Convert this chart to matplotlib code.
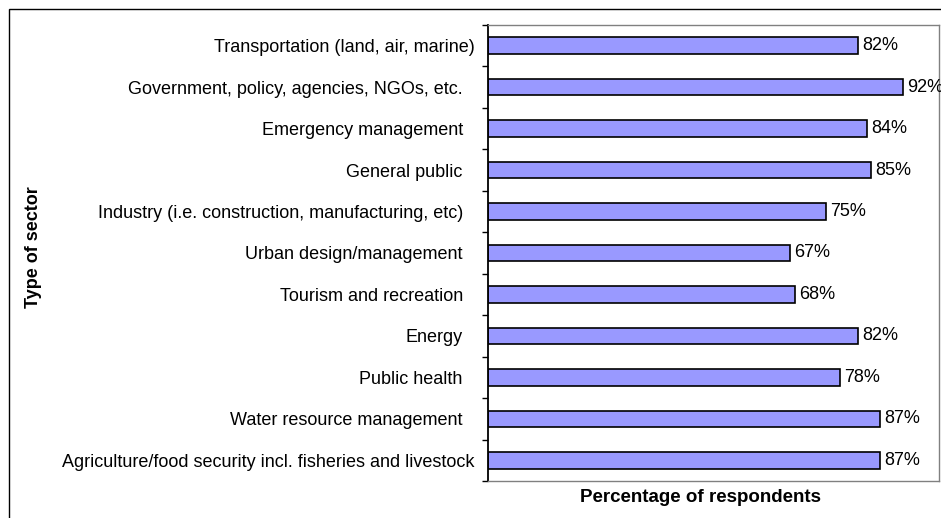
import matplotlib.pyplot as plt
from matplotlib.patches import Rectangle
import numpy as np

plt.rcParams['font.family'] = ['Liberation Sans', 'DejaVu Sans']

# sectors listed top to bottom as in the original chart
sectors = [
    'Transportation (land, air, marine)',
    'Government, policy, agencies, NGOs, etc.',
    'Emergency management',
    'General public',
    'Industry (i.e. construction, manufacturing, etc)',
    'Urban design/management',
    'Tourism and recreation',
    'Energy',
    'Public health',
    'Water resource management',
    'Agriculture/food security incl. fisheries and livestock',
]
percent = [82, 92, 84, 85, 75, 67, 68, 82, 78, 87, 87]
# labels that sit flush with the ticks (others had a trailing blank in the source)
flush = ['Transportation (land, air, marine)',
         'Agriculture/food security incl. fisheries and livestock']

W, H = 941, 518
fig = plt.figure(figsize=(W / 100, H / 100), dpi=100)

# outer chart frame
fig.patches.append(Rectangle((9 / W, -0.1), 1.2, 1 - 9 / H + 0.1, transform=fig.transFigure,
                             fill=False, edgecolor='black', linewidth=1.0))

ax = fig.add_axes([488 / W, 37 / H, (939 - 488) / W, (493 - 37) / H])

y = np.arange(len(sectors))
ax.barh(y, percent, height=0.4, color='#9999FF', edgecolor='black', linewidth=1.2)

for yi, v in zip(y, percent):
    ax.text(v + 0.9, yi, f'{v}%', va='center', ha='left', fontsize=13, clip_on=False)

ax.set_xlim(0, 100)
ax.set_ylim(len(sectors) - 0.5, -0.5)

ax.set_yticks(y)
ax.set_yticklabels(sectors, fontsize=13)
ax.tick_params(axis='y', which='major', length=0, pad=9.4)
for lab in ax.get_yticklabels():
    if lab.get_text() not in flush:
        lab.set_x(-0.027)
ax.set_yticks(np.arange(-0.5, len(sectors)), minor=True)
ax.tick_params(axis='y', which='minor', length=4, width=1, direction='out', color='black')
ax.set_xticks([])

for s in ['top', 'right', 'bottom']:
    ax.spines[s].set_color('#808080')
    ax.spines[s].set_linewidth(1.0)
ax.spines['left'].set_color('black')
ax.spines['left'].set_linewidth(1.3)

fig.text(700 / W, 1 - 498 / H, 'Percentage of respondents', ha='center', va='center',
         fontsize=13.5, fontweight='bold')
fig.text(33 / W, 1 - 247 / H, 'Type of sector', ha='center', va='center', rotation=90,
         fontsize=13, fontweight='bold')

plt.savefig('out.png', dpi=100)
